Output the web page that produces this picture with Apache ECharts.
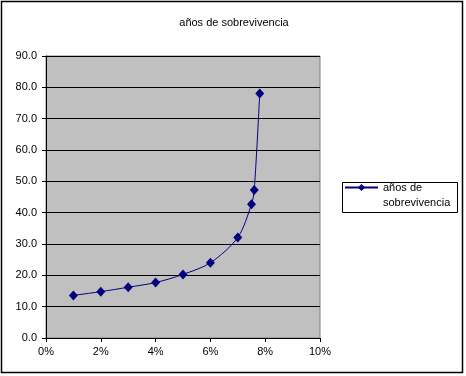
<!DOCTYPE html>
<html><head><meta charset="utf-8">
<script src="https://cdn.jsdelivr.net/npm/echarts@6/dist/echarts.min.js"></script>
<style>html,body{margin:0;padding:0;background:#fff}#c{width:466px;height:376px}</style>
</head><body><div id="c"></div>
<script>
const titleText = 'años de sobrevivencia';
const seriesName = 'años de sobrevivencia';
const xPercent = [1, 2, 3, 4, 5, 6, 7, 7.5, 7.6, 7.8];
const yYears = [13.6, 14.8, 16.2, 17.7, 20.3, 24.0, 32.1, 42.7, 47.2, 78.0];
const xTicks = [0, 2, 4, 6, 8, 10];
const yTicks = [0, 10, 20, 30, 40, 50, 60, 70, 80, 90];

const font = 'Liberation Sans, Arial, sans-serif';
const chart = echarts.init(document.getElementById('c'), null, {renderer: 'canvas'});
chart.setOption({
  animation: false,
  backgroundColor: '#fff',
  title: {
    text: titleText, left: 229, top: 12, textAlign: 'center',
    textStyle: {fontFamily: font, fontSize: 11, fontWeight: 'normal', color: '#000'}
  },
  graphic: [
    {type: 'rect', shape: {x: 1.5, y: 1.5, width: 461, height: 371}, style: {fill: 'none', stroke: '#000', lineWidth: 1.5}, z: 100},
    {type: 'rect', shape: {x: 342.5, y: 182.5, width: 115, height: 30}, style: {fill: '#fff', stroke: '#000', lineWidth: 1}, z: 0}
  ],
  legend: {
    left: 344, top: 165, orient: 'vertical',
    itemWidth: 33, itemHeight: 9, itemGap: 0, padding: 0,
    formatter: () => '\u00a0\naños de\nsobrevivencia',
    textStyle: {fontFamily: font, fontSize: 11, color: '#000', lineHeight: 15},
    data: [seriesName], z: 5
  },
  grid: {
    left: 46, right: 146, top: 56, bottom: 38,
    show: true, backgroundColor: '#C0C0C0', borderColor: '#808080', borderWidth: 1
  },
  xAxis: {
    type: 'value', min: xTicks[0], max: xTicks[xTicks.length - 1], interval: 2,
    axisLine: {show: true, onZero: false, lineStyle: {color: '#000', width: 1}},
    axisTick: {show: true, length: 4, lineStyle: {color: '#000'}},
    splitLine: {show: false},
    axisLabel: {fontFamily: font, fontSize: 11, color: '#000', margin: 8, formatter: v => v + '%'}
  },
  yAxis: {
    type: 'value', min: yTicks[0], max: yTicks[yTicks.length - 1], interval: 10,
    axisLine: {show: true, lineStyle: {color: '#000', width: 1}},
    axisTick: {show: true, length: 4, lineStyle: {color: '#000'}},
    splitLine: {show: true, lineStyle: {color: '#000', width: 1}},
    axisLabel: {fontFamily: font, fontSize: 11, color: '#000', margin: 9, formatter: v => v.toFixed(1)}
  },
  series: [{
    name: seriesName, type: 'line',
    data: xPercent.map((x, i) => [x, yYears[i]]),
    smooth: 0.3,
    symbol: 'diamond', symbolSize: [9, 10],
    lineStyle: {color: '#000080', width: 1},
    itemStyle: {color: '#000080'}
  }]
});
</script></body></html>
